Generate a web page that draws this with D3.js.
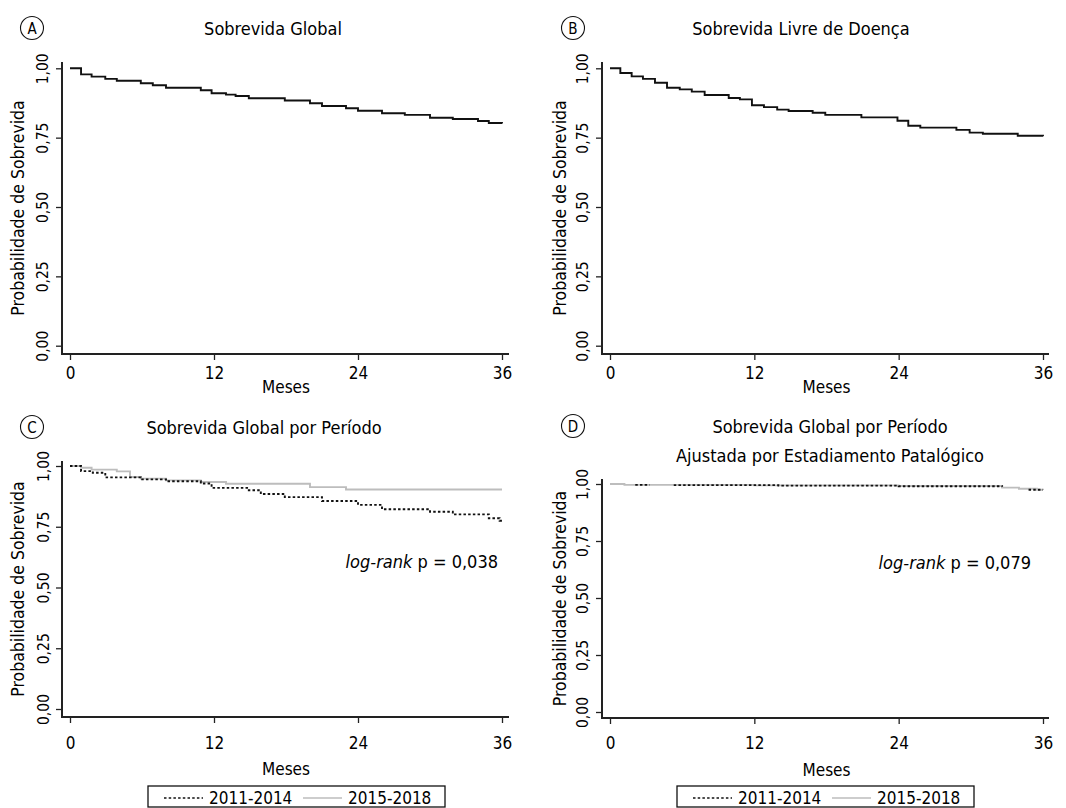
<!DOCTYPE html>
<html>
<head>
<meta charset="utf-8">
<script src="https://cdn.jsdelivr.net/npm/d3@7"></script>
<style>
  body { margin: 0; background: #fff; }
  text { font-family: "DejaVu Sans Condensed", "DejaVu Sans", sans-serif; fill: #000; }
</style>
</head>
<body>
<script>
// A: sobrevida global
const sgTimes = [0, 0.92, 1.8, 2.94, 3.9, 5.9, 6.9, 8.0, 10.9, 11.8, 13.0, 13.8, 14.9, 17.9, 20.0, 21.0, 23.0, 24.0, 26.0, 27.9, 30.0, 31.9, 34.0, 34.9, 36];
const sgSurv  = [1.0, 0.978, 0.970, 0.962, 0.955, 0.946, 0.939, 0.930, 0.921, 0.910, 0.905, 0.900, 0.892, 0.884, 0.874, 0.864, 0.856, 0.847, 0.838, 0.832, 0.822, 0.817, 0.810, 0.803, 0.801];

// B: sobrevida livre de doenca
const slTimes = [0, 0.86, 1.8, 2.74, 3.74, 4.74, 5.8, 6.8, 7.87, 9.87, 10.8, 11.8, 12.8, 13.9, 14.85, 16.85, 17.9, 20.9, 23.9, 24.8, 25.8, 28.8, 29.9, 31.0, 33.9, 36];
const slSurv  = [1.0, 0.983, 0.971, 0.962, 0.948, 0.930, 0.924, 0.916, 0.904, 0.893, 0.888, 0.867, 0.860, 0.851, 0.846, 0.840, 0.832, 0.823, 0.811, 0.793, 0.786, 0.778, 0.768, 0.764, 0.757, 0.755];

// C: por periodo
const p1Times = [0, 0.92, 1.9, 2.94, 5.9, 8.0, 10.9, 11.8, 14.9, 15.9, 17.9, 21.0, 24.0, 26.0, 30.0, 31.9, 34.9, 35.8, 36];
const p1Surv  = [1.0, 0.979, 0.972, 0.953, 0.945, 0.937, 0.928, 0.910, 0.900, 0.885, 0.872, 0.856, 0.840, 0.822, 0.812, 0.801, 0.785, 0.775, 0.775];
const p2Times = [0, 0.92, 1.8, 3.9, 5.0, 5.9, 8.0, 10.9, 13.0, 20.0, 23.0, 36];
const p2Surv  = [1.0, 0.993, 0.985, 0.978, 0.955, 0.948, 0.941, 0.934, 0.927, 0.913, 0.903, 0.903];

// D: ajustada por estadiamento (null = trecho sem linha)
const a1Times = [2.1, 3.3, 3.3, 5.3, 14.0, 24.0, 32.6, 32.6, 34.8, 36];
const a1Surv  = [0.996, 0.996, null, 0.995, 0.993, 0.990, 0.988, null, 0.975, 0.975];
const a2Times = [0, 1.2, 12.0, 24.0, 32.6, 34.0, 35.5, 36];
const a2Surv  = [1.0, 0.996, 0.994, 0.991, 0.984, 0.979, 0.975, 0.974];

const groups = ["2011-2014", "2015-2018"];
const xTicks = [0, 12, 24, 36];
const yTicks = [0, 0.25, 0.5, 0.75, 1];
const pValues = ["0,038", "0,079"];

const W = 1066, H = 808;
const svg = d3.select("body").append("svg").attr("width", W).attr("height", H);

const zip = (t, s) => t.map((v, i) => [v, s[i]]);
const fmtY = d => d3.format(".2f")(d).replace(".", ",");

const panels = [
  {letter: "A", title: ["Sobrevida Global"], tx: 273, ty: [28], cx: 32, cy: 28,
   left: 62, right: 509, top: 62, bottom: 354, x0: 70, x36: 502, yb: 345.7, yt: 68.3,
   ylx: 43, ytx: 18, xly: 373, mly: 387,
   series: [{d: zip(sgTimes, sgSurv), k: "solid"}]},
  {letter: "B", title: ["Sobrevida Livre de Doença"], tx: 801, ty: [28], cx: 573, cy: 28,
   left: 602, right: 1049, top: 62, bottom: 354, x0: 610, x36: 1043, yb: 345.7, yt: 68.3,
   ylx: 583, ytx: 560, xly: 373, mly: 387,
   series: [{d: zip(slTimes, slSurv), k: "solid"}]},
  {letter: "C", title: ["Sobrevida Global por Período"], tx: 264, ty: [427], cx: 32, cy: 427,
   left: 62, right: 509, top: 461, bottom: 717, x0: 70, x36: 502, yb: 709, yt: 466,
   ylx: 43.5, ytx: 18, xly: 743, mly: 769, p: pValues[0], px: 498, py: 561, legend: [148, 445],
   series: [{d: zip(p2Times, p2Surv), k: "gray"}, {d: zip(p1Times, p1Surv), k: "dot"}]},
  {letter: "D", title: ["Sobrevida Global por Período", "Ajustada por Estadiamento Patalógico"], tx: 830, ty: [426, 455], cx: 573, cy: 426,
   left: 602, right: 1049, top: 479, bottom: 718, x0: 610, x36: 1043, yb: 712, yt: 484,
   ylx: 583, ytx: 560, xly: 743, mly: 770, p: pValues[1], px: 1031, py: 562, legend: [677, 974],
   series: [{d: zip(a2Times, a2Surv), k: "gray"}, {d: zip(a1Times, a1Surv), k: "dot"}]}
];

const styles = {
  solid: {stroke: "#111", width: 1.9, dash: null},
  gray: {stroke: "#bdbdbd", width: 1.9, dash: null},
  dot: {stroke: "#111", width: 1.9, dash: "2.5,2.2"}
};

panels.forEach(p => {
  const g = svg.append("g");
  const x = d3.scaleLinear().domain([0, 36]).range([p.x0, p.x36]);
  const y = d3.scaleLinear().domain([0, 1]).range([p.yb, p.yt]);

  // letra no circulo
  g.append("circle").attr("cx", p.cx).attr("cy", p.cy).attr("r", 11.5)
    .attr("fill", "none").attr("stroke", "#111").attr("stroke-width", 1.1);
  g.append("text").attr("x", p.cx).attr("y", p.cy + 0.5).attr("text-anchor", "middle")
    .attr("dominant-baseline", "central").style("font-size", "15px").text(p.letter);

  p.title.forEach((t, i) => {
    g.append("text").attr("x", p.tx).attr("y", p.ty[i]).attr("text-anchor", "middle")
      .attr("dominant-baseline", "central").style("font-size", "18px").text(t);
  });

  // eixos
  const xa = g.append("g").attr("transform", `translate(0,${p.bottom})`)
    .call(d3.axisBottom(x).tickValues(xTicks).tickSize(6).tickSizeOuter(0).tickFormat(d3.format("d")));
  const ya = g.append("g").attr("transform", `translate(${p.left},0)`)
    .call(d3.axisLeft(y).tickValues(yTicks).tickSize(6).tickSizeOuter(0).tickFormat(fmtY));
  [xa, ya].forEach(a => {
    a.select(".domain").remove();
    a.selectAll(".tick line").attr("stroke", "#222").attr("stroke-width", 1.3);
  });
  xa.selectAll(".tick text").attr("y", p.xly - p.bottom).attr("dy", null)
    .attr("dominant-baseline", "central").style("font-size", "17px").attr("fill", "#000");
  ya.selectAll(".tick text").attr("x", null).attr("dy", null)
    .attr("transform", `translate(${p.ylx - p.left},0) rotate(-90)`)
    .attr("text-anchor", "middle").attr("dominant-baseline", "central")
    .style("font-size", "15.5px").attr("fill", "#000");

  g.append("path")
    .attr("d", `M${p.left},${p.top}V${p.bottom}H${p.right}`)
    .attr("fill", "none").attr("stroke", "#222").attr("stroke-width", 2);

  g.append("text").attr("transform", `translate(${p.ytx},${(p.top + p.bottom) / 2}) rotate(-90)`)
    .attr("text-anchor", "middle").attr("dominant-baseline", "central")
    .style("font-size", "17.5px").text("Probabilidade de Sobrevida");
  g.append("text").attr("x", (p.x0 + p.x36) / 2).attr("y", p.mly).attr("text-anchor", "middle")
    .attr("dominant-baseline", "central").style("font-size", "17px").text("Meses");

  // curvas
  const line = d3.line().defined(d => d[1] != null)
    .x(d => x(d[0])).y(d => y(d[1])).curve(d3.curveStepAfter);
  p.series.forEach(s => {
    const st = styles[s.k];
    g.append("path").datum(s.d).attr("d", line).attr("fill", "none")
      .attr("stroke", st.stroke).attr("stroke-width", st.width)
      .attr("stroke-dasharray", st.dash);
  });

  if (p.p) {
    const t = g.append("text").attr("x", p.px).attr("y", p.py).attr("text-anchor", "end")
      .attr("dominant-baseline", "central").style("font-size", "18px");
    t.append("tspan").style("font-style", "italic").text("log-rank");
    t.append("tspan").text(" p = " + p.p);

    // legenda
    const [lx0, lx1] = p.legend;
    const lg = g.append("g");
    lg.append("rect").attr("x", lx0).attr("y", 786).attr("width", lx1 - lx0).attr("height", 21)
      .attr("fill", "#fff").attr("stroke", "#111").attr("stroke-width", 1.3);
    const keys = ["dot", "gray"];
    groups.forEach((grp, i) => {
      const sx = lx0 + 16 + i * 139;
      const st = styles[keys[i]];
      lg.append("line").attr("x1", sx).attr("x2", sx + 39).attr("y1", 798).attr("y2", 798)
        .attr("stroke", st.stroke).attr("stroke-width", 1.6).attr("stroke-dasharray", st.dash);
      lg.append("text").attr("x", sx + 45).attr("y", 798).attr("dominant-baseline", "central")
        .style("font-size", "17px").text(grp);
    });
  }
});
</script>
</body>
</html>
